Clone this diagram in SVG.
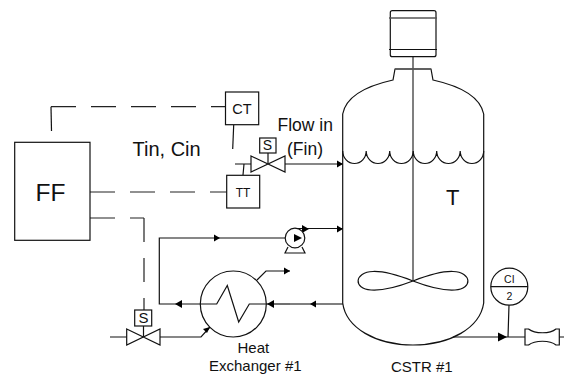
<svg xmlns="http://www.w3.org/2000/svg" width="564" height="374" viewBox="0 0 564 374">
<style>
text{font-family:"Liberation Sans",Arial,sans-serif;fill:#111}
.s{fill:none;stroke:#111;stroke-width:1.2}
.w{fill:#fff;stroke:#111;stroke-width:1.2}
.g{fill:none;stroke:#555;stroke-width:1.5}
.d{fill:none;stroke:#222;stroke-width:1.2;stroke-dasharray:25 15}
.a{fill:#000}
</style>
<rect width="564" height="374" fill="#fff"/>
<g id="connectors">
<path class="s" d="M51.500 131L51 106.700"/>
<path class="d" d="M51 106.700H226"/>
<path class="d" d="M90 192H227"/>
<path class="d" d="M90 218H144"/>
<path class="d" style="stroke-dasharray:24 16" d="M144 218V310"/>
<path class="s" d="M233.700 125L232.700 149"/>
<path class="s" d="M235 164H251M244 164L243 175"/>
<path class="s" d="M285 164H343"/>
<path class="s" d="M110 337H127M160 337H201L210 327"/>
<path class="s" d="M201 304H159.300V238H285"/>
<path class="s" d="M295 228.500H343"/>
<path class="s" d="M257 280L266 271H290"/>
<path class="g" d="M343 304H290"/>
<path class="s" d="M290 304H266"/>
<path class="s" d="M453 337H525M509 305L508 337M559 337H564"/>
<g class="a">
<path d="M343 164l-6-3.500v7z"/>
<path d="M220 238l-6-3.500v7z"/>
<path d="M309 229l-7-4v8z"/>
<path d="M343 229l-6-3.500v7z"/>
<path d="M290 271l-6-3.500v7z"/>
<path d="M175 304l7-4v8z"/>
<path d="M310 304l6-3.500v7z"/>
<path d="M507 337l-9-4.500v9z"/>
</g>
</g>
<g id="ff"><rect class="w" x="14.700" y="142.300" width="75.300" height="98"/><text x="35.500" y="201" font-size="24.500">FF</text></g>
<g id="ct"><rect class="w" x="225.500" y="92" width="33.200" height="32.700"/><text x="232.300" y="113.500" font-size="14.500">CT</text></g>
<g id="tt"><rect class="w" x="226.700" y="175.300" width="33" height="32.700"/><text x="235.700" y="197" font-size="12">TT</text></g>
<g id="tin"><text x="132.500" y="156" font-size="20">Tin, Cin</text></g>
<g id="flow"><text x="277.500" y="131" font-size="17.500">Flow in</text><text x="287" y="155" font-size="17.500">(Fin)</text></g>
<g id="valve-in">
<rect class="w" x="259.700" y="138" width="16.300" height="15"/><text x="262.800" y="150" font-size="14">S</text>
<path class="s" d="M268 153V164"/>
<path class="w" d="M251 156L285 172V156L251 172Z"/>
</g>
<g id="valve-out">
<rect class="w" x="134.700" y="310" width="17" height="16"/><text x="138.500" y="323" font-size="15">S</text>
<path class="s" d="M143.500 326V337"/>
<path class="w" d="M126.700 329L160 345V329L126.700 345Z"/>
</g>
<g id="pump">
<path class="w" d="M288 247L285 253H305L302 247"/>
<circle class="w" cx="295" cy="238" r="9.800"/>
<path class="a" d="M302 238l-8-4v8z"/>
</g>
<g id="exchanger">
<circle class="w" cx="233.300" cy="304" r="33"/>
<path class="s" d="M200 304H216.700L227.300 285.500L238.700 322L249.300 304H266"/>
<path class="a" d="M267 304l7-4v8z"/>
<path class="a" d="M210 327l-7 2 4 4z"/>
<text x="237.500" y="353" font-size="15">Heat</text>
<text x="209" y="370.500" font-size="15">Exchanger #1</text>
</g>
<g id="vessel">
<path class="s" d="M342.700 303V114C346 96 366 86 393 80L395 69H431L433 80C460 86 480 96 483.700 114V303C480 328 450 345 413 345C376 345 346 328 342.700 303Z"/>
<path class="g" d="M395 69H431M413 57V281"/>
<path class="s" d="M342.700 151A11.750 12.500 0 0 0 366.200 151A11.750 12.500 0 0 0 389.700 151A11.750 12.500 0 0 0 413.200 151A11.750 12.500 0 0 0 436.700 151A11.750 12.500 0 0 0 460.200 151A11.750 12.500 0 0 0 483.700 151"/>
<path class="s" d="M413 281C400 276 385 271 373 271.500C354 272 353 289 371 290C385 291 400 286 413 281C426 276 441 271 453 271.500C472 272 473 289 455 290C441 291 426 286 413 281Z"/>
<text x="446" y="205" font-size="22">T</text>
<text x="391" y="372" font-size="15">CSTR #1</text>
</g>
<g id="motor">
<rect class="s" x="390.300" y="10.700" width="45.700" height="46" rx="2"/>
<path class="g" d="M389 18H437" stroke-width="1"/>
<path class="s" d="M389 49.500H437"/>
</g>
<g id="ci">
<circle class="w" cx="509.300" cy="286.700" r="18.500"/>
<path class="s" d="M490.800 286.700H527.800"/>
<text x="509.300" y="283" font-size="10.500" text-anchor="middle">CI</text>
<text x="509.300" y="300" font-size="10.500" text-anchor="middle">2</text>
</g>
<g id="outlet-fitting">
<path class="w" d="M525 329H528.500C535 334 550 334 556 329H559.300V345H556C550 340 535 340 528.500 345H525Z"/>
</g>
</svg>
